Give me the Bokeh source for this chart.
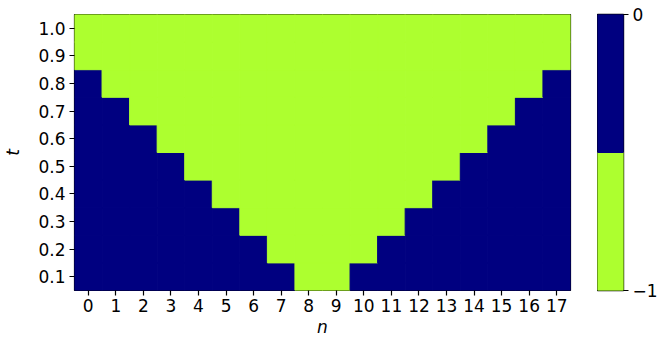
from bokeh.plotting import figure
from bokeh.layouts import row
from bokeh.models import LinearColorMapper, FixedTicker, ColumnDataSource
from bokeh.embed import file_html
from bokeh.resources import INLINE

n_vals = list(range(18))
t_vals = [0.1, 0.2, 0.3, 0.4, 0.5, 0.6, 0.7, 0.8, 0.9, 1.0]
t_labels = ["0.1", "0.2", "0.3", "0.4", "0.5", "0.6", "0.7", "0.8", "0.9", "1.0"]

# values per row (t = 0.1 ... 1.0), columns n = 0..17
grid = [
    [0, 0, 0, 0, 0, 0, 0, 0, -1, -1, 0, 0, 0, 0, 0, 0, 0, 0],
    [0, 0, 0, 0, 0, 0, 0, -1, -1, -1, -1, 0, 0, 0, 0, 0, 0, 0],
    [0, 0, 0, 0, 0, 0, -1, -1, -1, -1, -1, -1, 0, 0, 0, 0, 0, 0],
    [0, 0, 0, 0, 0, -1, -1, -1, -1, -1, -1, -1, -1, 0, 0, 0, 0, 0],
    [0, 0, 0, 0, -1, -1, -1, -1, -1, -1, -1, -1, -1, -1, 0, 0, 0, 0],
    [0, 0, 0, -1, -1, -1, -1, -1, -1, -1, -1, -1, -1, -1, -1, 0, 0, 0],
    [0, 0, -1, -1, -1, -1, -1, -1, -1, -1, -1, -1, -1, -1, -1, -1, 0, 0],
    [0, -1, -1, -1, -1, -1, -1, -1, -1, -1, -1, -1, -1, -1, -1, -1, -1, 0],
    [-1, -1, -1, -1, -1, -1, -1, -1, -1, -1, -1, -1, -1, -1, -1, -1, -1, -1],
    [-1, -1, -1, -1, -1, -1, -1, -1, -1, -1, -1, -1, -1, -1, -1, -1, -1, -1],
]
palette = ["#adff2f", "#000080"]  # -1 -> greenyellow, 0 -> navy
cbar_bounds = [-1.0, -0.5, 0.0]
cbar_ticks = [-1, 0]
cbar_labels = {-1: "\u22121", 0: "0"}

xs, ys, vs = [], [], []
for i, t in enumerate(t_vals):
    for j, n in enumerate(n_vals):
        xs.append(n)
        ys.append(t)
        vs.append(grid[i][j])
src = ColumnDataSource(dict(x=xs, y=ys, v=vs))

mapper = LinearColorMapper(palette=palette, low=-1, high=0)

FONT = "DejaVu Sans"
FS = "17px"
T, B = 14, 51
FW, FH = 497, 276
L, R = 73, 27

p = figure(width=L + FW + R, height=T + FH + B, output_backend="svg", toolbar_location=None,
           x_range=(-0.5, 17.5), y_range=(0.05, 1.05),
           min_border_left=L, min_border_top=T, min_border_right=R, min_border_bottom=B)
p.rect(x="x", y="y", width=1, height=0.1, source=src,
       fill_color={"field": "v", "transform": mapper},
       line_color={"field": "v", "transform": mapper}, line_width=1)

p.grid.visible = False
p.outline_line_color = "black"
p.outline_line_width = 1.2
for ax in (p.xaxis[0], p.yaxis[0]):
    ax.major_label_text_font = FONT
    ax.major_label_text_font_size = FS
    ax.major_label_text_color = "black"
    ax.axis_label_text_font = FONT
    ax.axis_label_text_font_size = FS
    ax.axis_label_text_font_style = "italic"
    ax.axis_label_text_color = "black"
    ax.minor_tick_line_color = None
    ax.major_tick_in = 0
    ax.major_tick_out = 5
    ax.major_tick_line_width = 1.2
    ax.axis_line_color = None
    ax.major_label_standoff = 4
p.xaxis.major_label_standoff = 3
p.xaxis.ticker = FixedTicker(ticks=n_vals)
p.yaxis.ticker = FixedTicker(ticks=t_vals)
p.yaxis.major_label_overrides = {t: lab for t, lab in zip(t_vals, t_labels)}
p.xaxis.axis_label = "n"
p.yaxis.axis_label = "t"
p.xaxis.axis_label_standoff = 2
p.yaxis.axis_label_standoff = 12

CBW = 26
cb = figure(width=CBW + 37, height=T + FH + B, output_backend="svg", toolbar_location=None,
            x_range=(0, 1), y_range=(cbar_bounds[0], cbar_bounds[-1]),
            x_axis_location=None, y_axis_location="right",
            min_border_left=0, min_border_top=T, min_border_right=37, min_border_bottom=B)
cb.quad(left=0, right=1, bottom=cbar_bounds[:-1], top=cbar_bounds[1:],
        fill_color=palette, line_color=palette, line_width=1)
cb.grid.visible = False
cb.outline_line_color = "black"
cb.outline_line_width = 1.4
ay = cb.yaxis[0]
ay.ticker = FixedTicker(ticks=cbar_ticks)
ay.major_label_overrides = cbar_labels
ay.major_label_text_font = FONT
ay.major_label_text_font_size = FS
ay.major_label_text_color = "black"
ay.minor_tick_line_color = None
ay.major_tick_in = 0
ay.major_tick_out = 5
ay.major_tick_line_width = 1.2
ay.axis_line_color = None
ay.major_label_standoff = 4

layout = row(p, cb)
open("out.html", "w").write(file_html(layout, INLINE))
